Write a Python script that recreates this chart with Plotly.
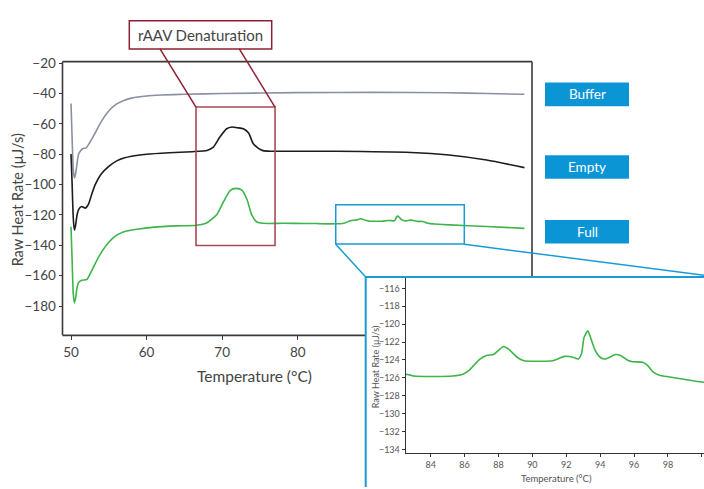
import plotly.graph_objects as go

# ---------------- data ----------------
buffer_x = [50.0, 50.15, 50.3, 50.45, 50.6, 50.8, 51.0, 51.3, 51.6, 52.0, 52.4, 52.8, 53.3, 54.0,
            55.0, 56.0, 57.0, 58.0, 60.0, 62.0, 65.0, 70.0, 80.0, 90.0, 100.0, 105.0, 110.0]
buffer_y = [-46.5, -70, -90, -95.6, -93, -86, -80, -77.5, -76.2, -75.8, -73, -69.5, -65, -58.5,
            -51.5, -47, -44.5, -43, -41.6, -41, -40.5, -40, -39.4, -39.2, -39.5, -40, -40.5]

empty_x = [50.0, 50.15, 50.3, 50.45, 50.6, 50.8, 51.0, 51.4, 51.9, 52.3, 52.7, 53.2, 54.0, 55.0,
           56.0, 57.0, 58.0, 60.0, 63.0, 66.0, 68.0, 68.8, 69.7, 70.6, 71.3, 72.0, 72.8, 73.5,
           74.1, 74.8, 75.4, 76.5, 85.0, 95.0, 100.0, 105.0, 110.0]
empty_y = [-79.8, -100, -122, -130, -127, -120, -116.5, -114.4, -115.5, -113, -107, -100, -93, -88,
           -84.5, -82.5, -81.3, -80, -79, -78.3, -77.5, -75.5, -68.6, -63.2, -62, -62.5, -63.2, -66,
           -72.9, -76.1, -77.6, -78, -78, -78.8, -80.5, -83.8, -88.8]

full_x = [50.0, 50.15, 50.3, 50.45, 50.6, 50.8, 51.0, 51.4, 52.1, 52.5, 53.0, 53.8, 55.0, 56.0,
          57.0, 58.7, 61.0, 64.0, 66.6, 68.0, 69.3, 70.2, 71.1, 71.9, 72.6, 73.3, 73.9, 74.6,
          75.4, 78.0, 81.0, 82.5, 82.8, 83.0, 84.0, 85.3, 85.9, 86.3, 86.9, 87.3, 87.7, 87.9,
          88.3, 88.6, 89.1, 89.5, 90.4, 91.2, 91.6, 91.9, 92.4, 92.7, 92.9, 93.05, 93.27, 93.4,
          93.7, 94.0, 94.3, 94.9, 95.2, 95.6, 95.9, 96.5, 96.8, 97.1, 97.5, 98.1, 100.1, 105.0, 110.0]
full_y = [-127.7, -150, -172, -177.9, -175, -168, -164.5, -163, -162.5, -159, -154, -146.4, -138, -133.5,
          -131, -129.4, -128, -127.2, -126.8, -125.1, -119.7, -111.1, -103.6, -102.5, -103.6, -110.0, -119.7, -124.6,
          -125.5, -125.5, -125.6, -125.6, -125.7, -125.8, -125.85, -125.8, -125.6, -125.1, -123.9, -123.5, -123.4, -123.1,
          -122.5, -122.8, -123.7, -124.1, -124.15, -124.1, -123.8, -123.6, -123.7, -123.9, -123.3, -121.5, -120.75, -121.3,
          -122.9, -123.7, -123.9, -123.4, -123.5, -124.0, -124.2, -124.25, -124.6, -125.3, -125.7, -125.9, -126.5, -127.6, -128.8]

main_xticks = [50, 60, 70, 80]
main_yticks = [-20, -40, -60, -80, -100, -120, -140, -160, -180]
inset_xticks = [84, 86, 88, 90, 92, 94, 96, 98, 100]
inset_yticks = [-116, -118, -120, -122, -124, -126, -128, -130, -132, -134]
series_names = ["Buffer", "Empty", "Full"]

# ---------------- layout helpers ----------------
W, H = 704, 489
def px(x):
    return x / W
def py(y):
    return 1 - y / H

FONT = "Lato"
TXT = "#444444"
GRAY = "#8a90a2"
BLACK = "#1c1c1c"
GREEN = "#3db54a"
RED_DARK = "#8e1f30"
RED_BOX = "#a84a55"
BLUE = "#1a9bd7"
LEG_BLUE = "#0b95d5"
AX = "#3a3a3a"

fig = go.Figure()
fig.add_trace(go.Scatter(x=buffer_x, y=buffer_y, mode="lines", name="Buffer",
                         line=dict(color=GRAY, width=1.6, shape="spline", smoothing=0.6)))
fig.add_trace(go.Scatter(x=empty_x, y=empty_y, mode="lines", name="Empty",
                         line=dict(color=BLACK, width=1.6, shape="spline", smoothing=0.6)))
fig.add_trace(go.Scatter(x=full_x, y=full_y, mode="lines", name="Full",
                         line=dict(color=GREEN, width=1.6, shape="spline", smoothing=0.6)))
fig.add_trace(go.Scatter(x=full_x, y=full_y, mode="lines", name="Full (inset)",
                         xaxis="x2", yaxis="y2", cliponaxis=True,
                         line=dict(color=GREEN, width=1.6, shape="spline", smoothing=0.6)))

shapes = []
def pline(x0, y0, x1, y1, color, width=1.5, layer="above"):
    shapes.append(dict(type="line", xref="paper", yref="paper",
                       x0=px(x0), y0=py(y0), x1=px(x1), y1=py(y1),
                       line=dict(color=color, width=width), layer=layer))

# main frame (drawn as shapes so the inset can hide part of it)
pline(62.5, 55.7, 62.5, 334.5, AX, 1.6, "below")
pline(62.5, 55.7, 532, 55.7, AX, 1.6, "below")
pline(532, 55.7, 532, 275, AX, 1.6, "below")
pline(62.5, 334.5, 365.7, 334.5, AX, 1.6, "below")

# rAAV denaturation highlight
shapes.append(dict(type="rect", xref="x", yref="y", x0=66.54, x1=77.0, y0=-140.1, y1=-48.85,
                   line=dict(color=RED_BOX, width=1.6), layer="above"))
shapes.append(dict(type="rect", xref="paper", yref="paper", x0=px(129.3), x1=px(271.7),
                   y0=py(42.7), y1=py(14), line=dict(color=RED_DARK, width=1.5),
                   fillcolor="white", layer="above"))
pline(160, 42.7, 196, 102, RED_DARK, 1.5)
pline(239.3, 42.7, 275, 102, RED_DARK, 1.5)

# blue zoom box and inset frame
shapes.append(dict(type="rect", xref="x", yref="y", x0=85.03, x1=102.04, y0=-139.1, y1=-113.3,
                   line=dict(color=BLUE, width=1.5), layer="above"))
pline(335.7, 241.7, 365.7, 275, BLUE, 1.5)
pline(464.3, 241.7, 704, 273.3, BLUE, 1.5)
pline(365.7, 275, 365.7, 489, BLUE, 2)
pline(365.7, 275, 704, 275, BLUE, 2)

# legend boxes
legend_boxes = [(77, 101), (151, 175), (217, 241)]
annotations = []
for name, (y0, y1) in zip(series_names, legend_boxes):
    shapes.append(dict(type="rect", xref="paper", yref="paper", x0=px(545), x1=px(629),
                       y0=py(y1), y1=py(y0), fillcolor=LEG_BLUE, line=dict(width=0), layer="above"))
    annotations.append(dict(x=px(587), y=py((y0 + y1) / 2), xref="paper", yref="paper",
                            text=name, showarrow=False, xanchor="center", yanchor="middle",
                            font=dict(family=FONT, size=13.5, color="white")))

annotations += [
    dict(x=px(200.5), y=py(28.3), xref="paper", yref="paper", text="rAAV Denaturation",
         showarrow=False, xanchor="center", yanchor="middle",
         font=dict(family=FONT, size=15, color=TXT)),
    dict(x=px(17), y=py(197), xref="paper", yref="paper", text="Raw Heat Rate (µJ/s)",
         showarrow=False, textangle=-90, xanchor="center", yanchor="middle",
         font=dict(family=FONT, size=14.5, color=TXT)),
    dict(x=px(254), y=py(376), xref="paper", yref="paper", text="Temperature (°C)",
         showarrow=False, xanchor="center", yanchor="middle",
         font=dict(family=FONT, size=15.5, color=TXT)),
    dict(x=px(375), y=py(367), xref="paper", yref="paper", text="Raw Heat Rate (µJ/s)",
         showarrow=False, textangle=-90, xanchor="center", yanchor="middle",
         font=dict(family=FONT, size=9, color="#555555")),
    dict(x=px(556.7), y=py(480), xref="paper", yref="paper", text="Temperature (°C)",
         showarrow=False, xanchor="center", yanchor="middle",
         font=dict(family=FONT, size=9.5, color="#555555")),
]

fig.update_layout(
    width=W, height=H,
    margin=dict(l=0, r=0, t=0, b=0),
    paper_bgcolor="white", plot_bgcolor="white",
    showlegend=False,
    font=dict(family=FONT, color=TXT),
    xaxis=dict(domain=[px(62.5), px(532)], range=[48.875, 111.0],
               tickvals=main_xticks, ticks="outside", ticklen=4, tickwidth=1.2, tickcolor=AX,
               showline=False, showgrid=False, zeroline=False,
               tickfont=dict(family=FONT, size=13.5, color=TXT)),
    yaxis=dict(domain=[py(334.5), py(55.7)], range=[-199.3, -19.0],
               tickvals=main_yticks, ticks="outside", ticklen=3, tickwidth=1.2, tickcolor=AX,
               showline=False, showgrid=False, zeroline=False,
               tickfont=dict(family=FONT, size=13.5, color=TXT)),
    xaxis2=dict(domain=[px(405.7), 1.0], range=[82.524, 100.13], anchor="y2",
                tickvals=inset_xticks, ticks="outside", ticklen=3, tickwidth=1, tickcolor="#333",
                showline=True, linecolor="#333", linewidth=1.2, showgrid=False, zeroline=False,
                tickfont=dict(family=FONT, size=9, color="#555555")),
    yaxis2=dict(domain=[py(454.3), py(275)], range=[-134.4, -114.72], anchor="x2",
                tickvals=inset_yticks, ticks="outside", ticklen=3, tickwidth=1, tickcolor="#333",
                showline=True, linecolor="#333", linewidth=1.2, showgrid=False, zeroline=False,
                tickfont=dict(family=FONT, size=9, color="#555555")),
    shapes=shapes,
    annotations=annotations,
)

post = ("document.body.style.margin='0';document.body.style.overflow='hidden';"
        "var d=document.getElementById('{plot_id}');"
        "d.style.position='fixed';d.style.left='0px';d.style.top='0px';")

fig.write_html("out.html", config={"displayModeBar": False}, post_script=post)
